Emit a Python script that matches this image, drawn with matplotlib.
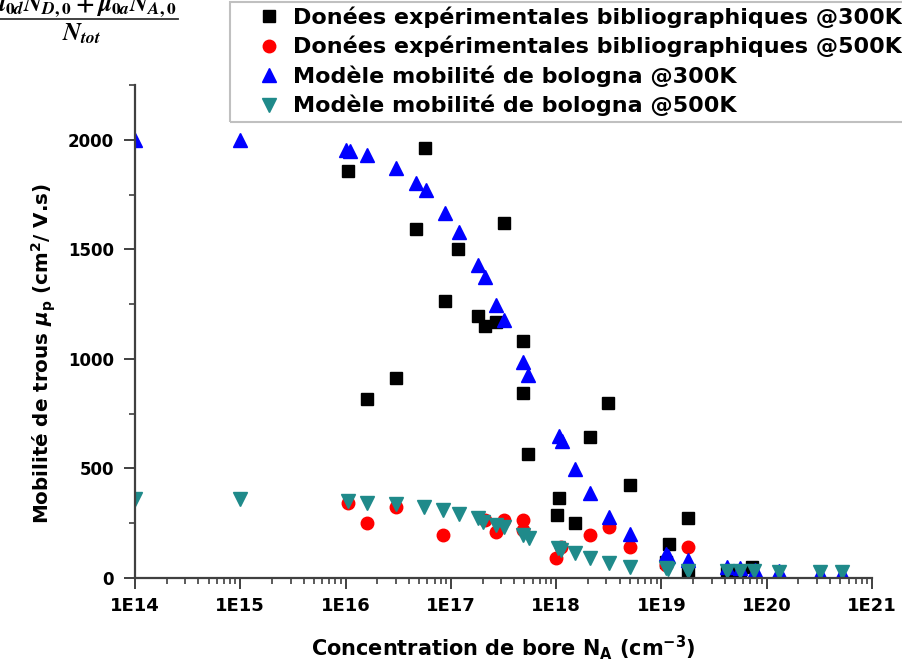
import numpy as np
import matplotlib
matplotlib.use("Agg")
import matplotlib.pyplot as plt
from matplotlib.lines import Line2D
from matplotlib.patches import Rectangle
from matplotlib.ticker import MultipleLocator, LogLocator, NullFormatter, FuncFormatter

plt.rcParams['font.family'] = ['DejaVu Sans']
plt.rcParams['font.weight'] = 'bold'
plt.rcParams['mathtext.fontset'] = 'dejavusans'

# Données expérimentales @300K
x_exp300 = [1.05e16, 1.6e16, 3.0e16, 4.7e16, 5.7e16, 8.8e16, 1.17e17, 1.8e17, 2.1e17, 2.7e17,
            3.2e17, 4.8e17, 4.8e17, 5.4e17, 1.02e18, 1.07e18, 1.5e18, 2.1e18, 3.1e18, 5.0e18,
            1.1e19, 1.18e19, 1.8e19, 1.8e19, 4.2e19, 5.6e19, 7.2e19]
y_exp300 = [1858, 817, 913, 1594, 1963, 1265, 1502, 1196, 1151, 1169,
            1621, 1082, 845, 566, 288, 365, 251, 644, 800, 425,
            75, 155, 274, 23, 23, 23, 50]

# Données expérimentales @500K
x_exp500 = [1.05e16, 1.6e16, 3.0e16, 8.4e16, 2.1e17, 2.7e17, 3.2e17, 4.8e17, 4.8e17, 1.0e18,
            1.1e18, 2.1e18, 3.2e18, 5.0e18, 1.1e19, 1.8e19]
y_exp500 = [342, 251, 324, 196, 265, 210, 265, 265, 220, 91,
            142, 196, 233, 142, 60, 142]

# Modèle de bologna @300K
x_bol300 = [1e14, 1e15, 1.0e16, 1.1e16, 1.6e16, 3.0e16, 4.7e16, 5.8e16, 8.8e16, 1.2e17,
            1.8e17, 2.1e17, 2.7e17, 3.2e17, 4.8e17, 5.4e17, 1.06e18, 1.13e18, 1.5e18, 2.1e18,
            3.2e18, 5.0e18, 1.1e19, 1.15e19, 1.8e19, 4.2e19, 5.6e19, 7.8e19, 1.3e20, 3.2e20, 5.2e20]
y_bol300 = [2000, 2000, 1955, 1950, 1931, 1872, 1804, 1772, 1667, 1580,
            1429, 1374, 1247, 1178, 986, 927, 648, 626, 498, 388,
            279, 201, 110, 100, 82, 50, 45, 37, 30, 25, 25]

# Modèle de bologna @500K
x_bol500 = [1e14, 1e15, 1.05e16, 1.6e16, 3.0e16, 5.6e16, 8.4e16, 1.2e17, 1.8e17, 2.0e17,
            2.7e17, 3.2e17, 4.8e17, 5.5e17, 1.05e18, 1.1e18, 1.5e18, 2.1e18, 3.2e18, 5.0e18,
            1.1e19, 1.15e19, 1.8e19, 4.2e19, 5.6e19, 7.5e19, 1.3e20, 3.2e20, 5.2e20]
y_bol500 = [361, 361, 352, 342, 338, 324, 310, 292, 274, 256,
            242, 233, 196, 183, 137, 130, 114, 91, 68, 50,
            46, 40, 32, 32, 32, 30, 27, 27, 27]

labels = ["Donées expérimentales bibliographiques @300K",
          "Donées expérimentales bibliographiques @500K",
          "Modèle mobilité de bologna @300K",
          "Modèle mobilité de bologna @500K"]

fig = plt.figure(figsize=(9.03, 6.65), dpi=100)
ax = fig.add_axes([135/903, 1-578/665, (872-135)/903, (578-85)/665])

ax.plot(x_exp300, y_exp300, 's', color='black', ms=9, ls='none', label=labels[0])
ax.plot(x_exp500, y_exp500, 'o', color='#ff0000', ms=9, ls='none', label=labels[1])
ax.plot(x_bol300, y_bol300, '^', color='#0000ff', ms=10.5, ls='none', label=labels[2])
ax.plot(x_bol500, y_bol500, 'v', color='#1f8a8a', ms=10.5, ls='none', label=labels[3])

ax.set_xscale('log')
ax.set_xlim(1e14, 1e21)
ax.set_ylim(0, 2250)

ax.xaxis.set_major_locator(LogLocator(base=10, numticks=20))
ax.xaxis.set_minor_locator(LogLocator(base=10, subs=np.arange(2, 10), numticks=100))
ax.xaxis.set_minor_formatter(NullFormatter())
ax.xaxis.set_major_formatter(FuncFormatter(lambda v, p: "1E%d" % round(np.log10(v))))
ax.yaxis.set_major_locator(MultipleLocator(500))
ax.yaxis.set_minor_locator(MultipleLocator(250))

for s in ['top', 'right']:
    ax.spines[s].set_visible(False)
for s in ['left', 'bottom']:
    ax.spines[s].set_linewidth(1.6)
    ax.spines[s].set_color('#404040')

ax.tick_params(axis='both', which='major', direction='out', length=8, width=1.4, color='#404040')
ax.tick_params(axis='both', which='minor', direction='out', length=4, width=1.2, color='#404040')
ax.tick_params(axis='x', which='major', labelsize=13, pad=6)
ax.tick_params(axis='y', which='major', labelsize=12, pad=7)
for t in ax.get_xticklabels() + ax.get_yticklabels():
    t.set_fontweight('bold')

ax.set_ylabel(r"Mobilité de trous $\mu_\mathbf{p}$ (cm$^\mathbf{2}$/ V.s)", fontsize=14.3, fontweight='bold')
ax.yaxis.set_label_coords(-0.105, 0.456)
ax.set_xlabel(r"Concentration de bore N$_\mathbf{A}$ (cm$^\mathbf{-3}$)", fontsize=15, fontweight='bold')
ax.xaxis.set_label_coords(0.5, -0.112)

# légende, cadre dessiné à part : il dépasse à droite comme dans l'image d'origine
leg = fig.legend(loc='upper left', bbox_to_anchor=(230/903, 1-2/665),
                 borderaxespad=0, frameon=False, numpoints=1,
                 handlelength=3.1, handletextpad=-0.45, borderpad=0.2, labelspacing=0.36,
                 prop={'weight': 'bold', 'size': 16})
fig.add_artist(Rectangle((230/903, 1-122/665), 760/903, 120/665, transform=fig.transFigure,
                         facecolor='none', edgecolor='#c0c0c0', lw=1.5))

# formule tronquée en haut à gauche
fig.text(83/903, 1-11/665, r"$\mu_{0d}N_{D,0}+\mu_{0a}N_{A,0}$",
         fontsize=18, ha='center', va='baseline', math_fontfamily='stix', fontweight='normal')
fig.add_artist(Line2D([0, 178/903], [1-19/665, 1-19/665], color='#333333', lw=1.3,
                      transform=fig.transFigure))
fig.text(82/903, 1-40/665, r"$N_{tot}$",
         fontsize=18, ha='center', va='baseline', math_fontfamily='stix', fontweight='normal')

fig.savefig("out.png", dpi=100)
